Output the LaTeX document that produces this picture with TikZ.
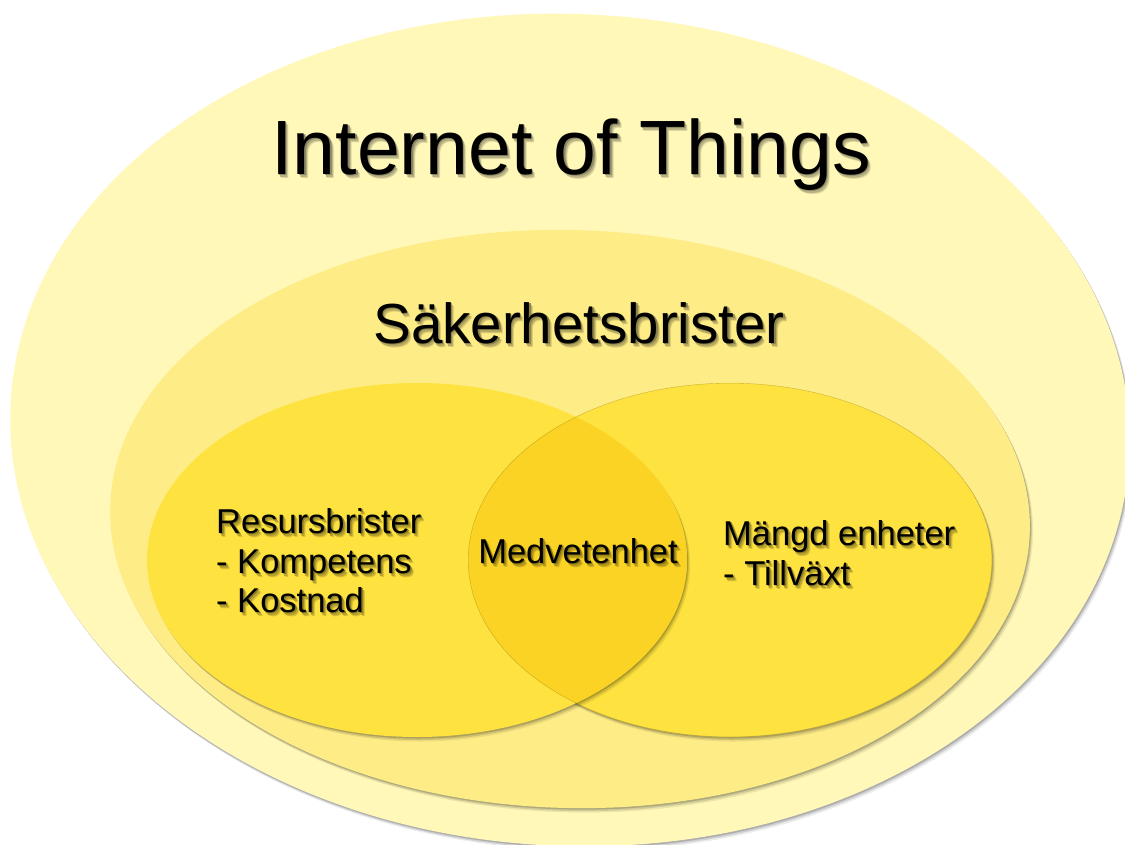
\documentclass[tikz,border=0pt]{standalone}
\usepackage{fontspec}
\setmainfont{Liberation Sans}
\usetikzlibrary{shadows}
\definecolor{outerc}{HTML}{FFF8B8}
\definecolor{midc}{HTML}{FEEC87}
\definecolor{innerc}{HTML}{FEE23F}
\definecolor{lensc}{HTML}{FAD324}
\tikzset{
  softshadow/.style={
    general shadow={shadow xshift=1pt, shadow yshift=-1.5pt, fill=black, opacity=.16},
    general shadow={shadow xshift=2pt, shadow yshift=-3pt, fill=black, opacity=.12},
    general shadow={shadow xshift=3.2pt, shadow yshift=-4.5pt, fill=black, opacity=.07}},
  txt/.style={inner sep=0pt, text=black},
  bigfont/.style={font=\fontsize{77}{90}\selectfont},
  midfont/.style={font=\fontsize{56.5}{66}\selectfont},
  smallfont/.style={font=\fontsize{34.5}{40}\selectfont}
}
% text with a soft drop shadow; #1 background colour, #2 text
\newcommand\shtext[2]{%
  \rlap{\kern3.4pt\raisebox{-4pt}{\textcolor{#1!86!black}{#2}}}%
  \rlap{\kern2.4pt\raisebox{-3pt}{\textcolor{#1!72!black}{#2}}}%
  \rlap{\kern1.4pt\raisebox{-1.8pt}{\textcolor{#1!55!black}{#2}}}%
  #2}
\begin{document}
\begin{tikzpicture}[x=1pt,y=-1pt]
\useasboundingbox (0,0) rectangle (1125,844);
\fill[white] (0,0) rectangle (1125,844);
\begin{scope}
\clip (0,0) rectangle (1125,844);
% outer set
\fill[outerc, softshadow, rotate around={-2.5:(570,430)}] (570,430) ellipse [x radius=560pt, y radius=416pt];
% middle set
\fill[midc, softshadow, rotate around={-1.5:(570,519)}] (570,519) ellipse [x radius=460pt, y radius=289pt];
% right inner set
\fill[innerc, softshadow] (730,560) ellipse [x radius=262pt, y radius=177pt];
% left inner set
\fill[innerc, softshadow] (417,560) ellipse [x radius=270pt, y radius=177pt];
% overlap
\begin{scope}
\clip (730,560) ellipse [x radius=262pt, y radius=177pt];
\fill[lensc] (417,560) ellipse [x radius=270pt, y radius=177pt];
\draw[black, opacity=.22, line width=.7pt] (730,560) ellipse [x radius=262pt, y radius=177pt];
\end{scope}
\end{scope}
% labels
\node[txt, bigfont, anchor=base] (iot) at (571,174) {\shtext{outerc}{Internet of Things}};
\node[txt, midfont, anchor=base] (sak) at (579,343) {\shtext{midc}{Säkerhetsbrister}};
\node[txt, smallfont, anchor=base west] (res1) at (216,533) {\shtext{innerc}{Resursbrister}};
\node[txt, smallfont, anchor=base west] (res2) at (216,573) {\shtext{innerc}{- Kompetens}};
\node[txt, smallfont, anchor=base west] (res3) at (216,612) {\shtext{innerc}{- Kostnad}};
\node[txt, smallfont, anchor=base] (med) at (578,563) {\shtext{lensc}{Medvetenhet}};
\node[txt, smallfont, anchor=base west] (man1) at (723,545) {\shtext{innerc}{Mängd enheter}};
\node[txt, smallfont, anchor=base west] (man2) at (723,585) {\shtext{innerc}{- Tillväxt}};
\end{tikzpicture}
\end{document}
